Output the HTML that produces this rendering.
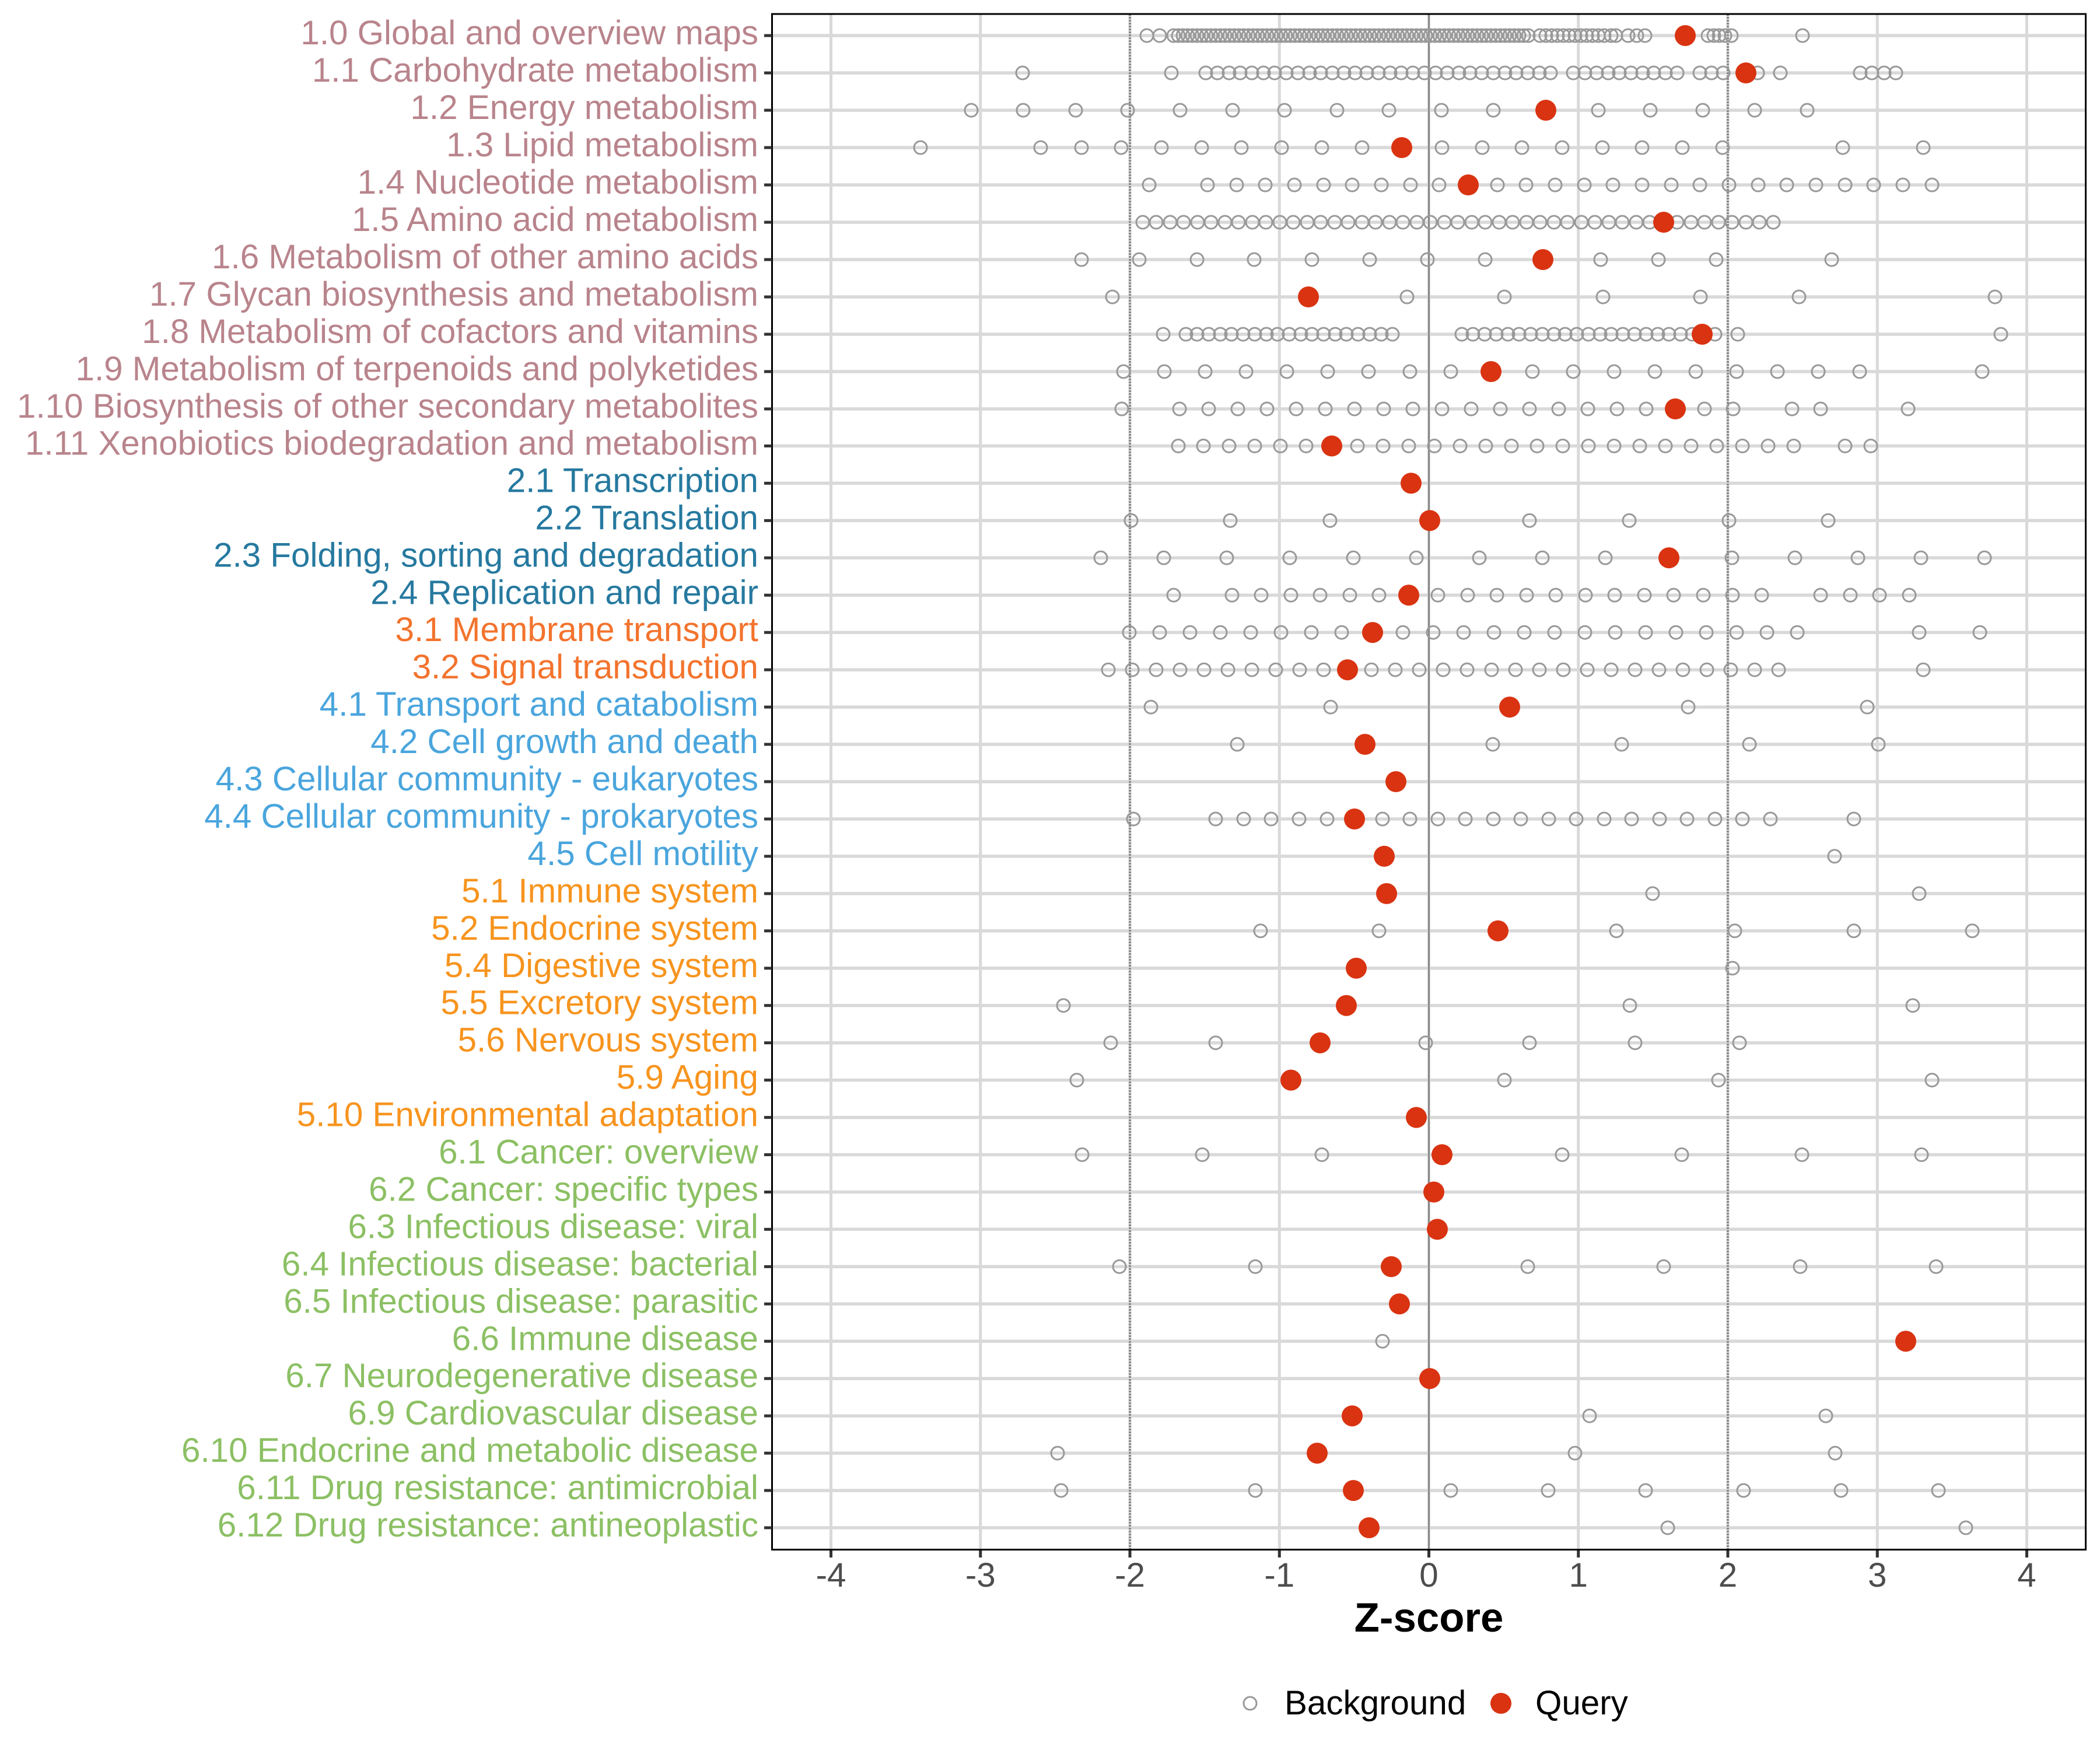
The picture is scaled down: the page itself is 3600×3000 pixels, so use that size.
<!DOCTYPE html>
<html>
<head>
<meta charset="utf-8">
<style>
html,body{margin:0;padding:0;background:#fff;}
svg{display:block;}
.b{fill:none;stroke:#999999;stroke-width:3;}
.q{fill:#D93311;stroke:none;}
.yl{font-family:"Liberation Sans",Arial,sans-serif;font-size:58.33px;text-anchor:end;}
.xl{font-family:"Liberation Sans",Arial,sans-serif;font-size:58.33px;text-anchor:middle;fill:#4D4D4D;}
</style>
</head>
<body>
<svg width="3600" height="3000" viewBox="0 0 3600 3000" xmlns="http://www.w3.org/2000/svg">
<rect x="0" y="0" width="3600" height="3000" fill="#ffffff"/>
<!-- vertical gridlines -->
<g stroke="#D9D9D9" stroke-width="5">
<line x1="1424.5" y1="24" x2="1424.5" y2="2656"/>
<line x1="1680.75" y1="24" x2="1680.75" y2="2656"/>
<line x1="1937" y1="24" x2="1937" y2="2656"/>
<line x1="2193.25" y1="24" x2="2193.25" y2="2656"/>
<line x1="2449.5" y1="24" x2="2449.5" y2="2656"/>
<line x1="2705.75" y1="24" x2="2705.75" y2="2656"/>
<line x1="2962" y1="24" x2="2962" y2="2656"/>
<line x1="3218.25" y1="24" x2="3218.25" y2="2656"/>
<line x1="3474.5" y1="24" x2="3474.5" y2="2656"/>
</g>
<!-- horizontal gridlines -->
<g stroke="#D9D9D9" stroke-width="5.5">
<line x1="1324" x2="3575" y1="61" y2="61"/><line x1="1324" x2="3575" y1="125" y2="125"/><line x1="1324" x2="3575" y1="189" y2="189"/><line x1="1324" x2="3575" y1="253" y2="253"/><line x1="1324" x2="3575" y1="317" y2="317"/><line x1="1324" x2="3575" y1="381" y2="381"/><line x1="1324" x2="3575" y1="445" y2="445"/><line x1="1324" x2="3575" y1="509" y2="509"/><line x1="1324" x2="3575" y1="573" y2="573"/><line x1="1324" x2="3575" y1="637" y2="637"/><line x1="1324" x2="3575" y1="701" y2="701"/><line x1="1324" x2="3575" y1="764.5" y2="764.5"/><line x1="1324" x2="3575" y1="828.4" y2="828.4"/><line x1="1324" x2="3575" y1="892.4" y2="892.4"/><line x1="1324" x2="3575" y1="956.3" y2="956.3"/><line x1="1324" x2="3575" y1="1020.3" y2="1020.3"/><line x1="1324" x2="3575" y1="1084.2" y2="1084.2"/><line x1="1324" x2="3575" y1="1148.2" y2="1148.2"/><line x1="1324" x2="3575" y1="1212.1" y2="1212.1"/><line x1="1324" x2="3575" y1="1276" y2="1276"/><line x1="1324" x2="3575" y1="1340" y2="1340"/><line x1="1324" x2="3575" y1="1404" y2="1404"/><line x1="1324" x2="3575" y1="1467.9" y2="1467.9"/><line x1="1324" x2="3575" y1="1531.9" y2="1531.9"/><line x1="1324" x2="3575" y1="1595.8" y2="1595.8"/><line x1="1324" x2="3575" y1="1659.8" y2="1659.8"/><line x1="1324" x2="3575" y1="1723.7" y2="1723.7"/><line x1="1324" x2="3575" y1="1787.7" y2="1787.7"/><line x1="1324" x2="3575" y1="1851.6" y2="1851.6"/><line x1="1324" x2="3575" y1="1915.6" y2="1915.6"/><line x1="1324" x2="3575" y1="1979.5" y2="1979.5"/><line x1="1324" x2="3575" y1="2043.5" y2="2043.5"/><line x1="1324" x2="3575" y1="2107.4" y2="2107.4"/><line x1="1324" x2="3575" y1="2171.4" y2="2171.4"/><line x1="1324" x2="3575" y1="2235.3" y2="2235.3"/><line x1="1324" x2="3575" y1="2299.3" y2="2299.3"/><line x1="1324" x2="3575" y1="2363.2" y2="2363.2"/><line x1="1324" x2="3575" y1="2427.2" y2="2427.2"/><line x1="1324" x2="3575" y1="2491.1" y2="2491.1"/><line x1="1324" x2="3575" y1="2555.1" y2="2555.1"/><line x1="1324" x2="3575" y1="2619" y2="2619"/>
</g>
<!-- reference lines -->
<g stroke="#808080" stroke-width="3.5" stroke-dasharray="3 2">
<line x1="1937" y1="24" x2="1937" y2="2656"/>
<line x1="2962" y1="24" x2="2962" y2="2656"/>
</g>
<line x1="2449.5" y1="24" x2="2449.5" y2="2656" stroke="#8A8A8A" stroke-width="3"/>

<!-- points -->
<g transform="translate(0,61)">
<g class="b">
<circle cx="1966" r="11"/><circle cx="1988" r="11"/>
<circle cx="2012" r="11"/><circle cx="2020" r="11"/><circle cx="2028" r="11"/><circle cx="2036" r="11"/><circle cx="2044" r="11"/><circle cx="2052" r="11"/><circle cx="2060" r="11"/><circle cx="2068" r="11"/><circle cx="2076" r="11"/><circle cx="2084" r="11"/><circle cx="2092" r="11"/><circle cx="2100" r="11"/><circle cx="2108" r="11"/><circle cx="2116" r="11"/><circle cx="2124" r="11"/><circle cx="2132" r="11"/><circle cx="2140" r="11"/><circle cx="2148" r="11"/><circle cx="2156" r="11"/><circle cx="2164" r="11"/><circle cx="2172" r="11"/><circle cx="2180" r="11"/><circle cx="2188" r="11"/><circle cx="2196" r="11"/><circle cx="2204" r="11"/><circle cx="2212" r="11"/><circle cx="2220" r="11"/><circle cx="2228" r="11"/><circle cx="2236" r="11"/><circle cx="2244" r="11"/><circle cx="2252" r="11"/><circle cx="2260" r="11"/><circle cx="2268" r="11"/><circle cx="2276" r="11"/><circle cx="2284" r="11"/><circle cx="2292" r="11"/><circle cx="2300" r="11"/><circle cx="2308" r="11"/><circle cx="2316" r="11"/><circle cx="2324" r="11"/><circle cx="2332" r="11"/><circle cx="2340" r="11"/><circle cx="2348" r="11"/><circle cx="2356" r="11"/><circle cx="2364" r="11"/><circle cx="2372" r="11"/><circle cx="2380" r="11"/><circle cx="2388" r="11"/><circle cx="2396" r="11"/><circle cx="2404" r="11"/><circle cx="2412" r="11"/><circle cx="2420" r="11"/><circle cx="2428" r="11"/><circle cx="2436" r="11"/><circle cx="2444" r="11"/><circle cx="2452" r="11"/><circle cx="2460" r="11"/><circle cx="2468" r="11"/><circle cx="2476" r="11"/><circle cx="2484" r="11"/><circle cx="2492" r="11"/><circle cx="2500" r="11"/><circle cx="2508" r="11"/><circle cx="2516" r="11"/><circle cx="2524" r="11"/><circle cx="2532" r="11"/><circle cx="2540" r="11"/><circle cx="2548" r="11"/><circle cx="2556" r="11"/><circle cx="2564" r="11"/><circle cx="2572" r="11"/><circle cx="2580" r="11"/><circle cx="2588" r="11"/><circle cx="2596" r="11"/><circle cx="2604" r="11"/><circle cx="2612" r="11"/><circle cx="2620" r="11"/>
<circle cx="2640" r="11"/><circle cx="2650" r="11"/><circle cx="2660" r="11"/><circle cx="2670" r="11"/><circle cx="2680" r="11"/><circle cx="2690" r="11"/><circle cx="2700" r="11"/><circle cx="2710" r="11"/><circle cx="2720" r="11"/><circle cx="2730" r="11"/><circle cx="2740" r="11"/><circle cx="2750" r="11"/><circle cx="2762" r="11"/>
<circle cx="2770" r="11"/><circle cx="2791" r="11"/><circle cx="2806" r="11"/><circle cx="2820" r="11"/><circle cx="2928" r="11"/><circle cx="2938" r="11"/><circle cx="2947" r="11"/><circle cx="2957" r="11"/><circle cx="2968" r="11"/><circle cx="3090" r="11"/>
</g>
<circle class="q" cx="2889" r="18"/>
</g>

<g transform="translate(0,125)">
<g class="b">
<circle cx="1753" r="11"/><circle cx="2008" r="11"/>
<circle cx="2067" r="11"/><circle cx="2087" r="11"/><circle cx="2107" r="11"/><circle cx="2126" r="11"/><circle cx="2146" r="11"/><circle cx="2166" r="11"/><circle cx="2185" r="11"/><circle cx="2205" r="11"/><circle cx="2225" r="11"/><circle cx="2245" r="11"/><circle cx="2264" r="11"/><circle cx="2284" r="11"/><circle cx="2304" r="11"/><circle cx="2323" r="11"/><circle cx="2343" r="11"/><circle cx="2363" r="11"/><circle cx="2383" r="11"/><circle cx="2402" r="11"/><circle cx="2422" r="11"/><circle cx="2442" r="11"/><circle cx="2461" r="11"/><circle cx="2481" r="11"/><circle cx="2501" r="11"/><circle cx="2520" r="11"/><circle cx="2540" r="11"/><circle cx="2560" r="11"/><circle cx="2580" r="11"/><circle cx="2599" r="11"/><circle cx="2619" r="11"/><circle cx="2639" r="11"/><circle cx="2658" r="11"/>
<circle cx="2697" r="11"/><circle cx="2717" r="11"/><circle cx="2737" r="11"/><circle cx="2757" r="11"/><circle cx="2776" r="11"/><circle cx="2796" r="11"/><circle cx="2816" r="11"/><circle cx="2835" r="11"/><circle cx="2855" r="11"/><circle cx="2875" r="11"/>
<circle cx="2914" r="11"/><circle cx="2934" r="11"/><circle cx="2954" r="11"/><circle cx="3013" r="11"/><circle cx="3052" r="11"/><circle cx="3189" r="11"/><circle cx="3209" r="11"/><circle cx="3230" r="11"/><circle cx="3250" r="11"/>
</g>
<circle class="q" cx="2993" r="18"/>
</g>

<g transform="translate(0,189)">
<g class="b">
<circle cx="1665" r="11"/><circle cx="1754" r="11"/><circle cx="1844" r="11"/><circle cx="1933" r="11"/><circle cx="2023" r="11"/><circle cx="2113" r="11"/><circle cx="2202" r="11"/><circle cx="2292" r="11"/><circle cx="2381" r="11"/><circle cx="2471" r="11"/><circle cx="2560" r="11"/><circle cx="2740" r="11"/><circle cx="2829" r="11"/><circle cx="2919" r="11"/><circle cx="3008" r="11"/><circle cx="3098" r="11"/>
</g>
<circle class="q" cx="2650" r="18"/>
</g>

<g transform="translate(0,253)">
<g class="b">
<circle cx="1578" r="11"/><circle cx="1784" r="11"/><circle cx="1854" r="11"/><circle cx="1922" r="11"/><circle cx="1991" r="11"/><circle cx="2060" r="11"/><circle cx="2128" r="11"/><circle cx="2197" r="11"/><circle cx="2266" r="11"/><circle cx="2335" r="11"/><circle cx="2472" r="11"/><circle cx="2541" r="11"/><circle cx="2609" r="11"/><circle cx="2678" r="11"/><circle cx="2747" r="11"/><circle cx="2815" r="11"/><circle cx="2884" r="11"/><circle cx="2953" r="11"/><circle cx="3159" r="11"/><circle cx="3297" r="11"/>
</g>
<circle class="q" cx="2403" r="18"/>
</g>

<g transform="translate(0,317)">
<g class="b">
<circle cx="1970" r="11"/><circle cx="2070" r="11"/><circle cx="2120" r="11"/><circle cx="2169" r="11"/><circle cx="2219" r="11"/><circle cx="2269" r="11"/><circle cx="2318" r="11"/><circle cx="2368" r="11"/><circle cx="2418" r="11"/><circle cx="2467" r="11"/><circle cx="2567" r="11"/><circle cx="2616" r="11"/><circle cx="2666" r="11"/><circle cx="2716" r="11"/><circle cx="2765" r="11"/><circle cx="2815" r="11"/><circle cx="2865" r="11"/><circle cx="2914" r="11"/><circle cx="2964" r="11"/><circle cx="3014" r="11"/><circle cx="3063" r="11"/><circle cx="3113" r="11"/><circle cx="3163" r="11"/><circle cx="3212" r="11"/><circle cx="3262" r="11"/><circle cx="3312" r="11"/>
</g>
<circle class="q" cx="2517" r="18"/>
</g>

<g transform="translate(0,381)">
<g class="b">
<circle cx="1959" r="11"/><circle cx="1982" r="11"/><circle cx="2006" r="11"/><circle cx="2029" r="11"/><circle cx="2053" r="11"/><circle cx="2076" r="11"/><circle cx="2100" r="11"/><circle cx="2123" r="11"/><circle cx="2147" r="11"/><circle cx="2170" r="11"/><circle cx="2194" r="11"/><circle cx="2217" r="11"/><circle cx="2241" r="11"/><circle cx="2264" r="11"/><circle cx="2288" r="11"/><circle cx="2311" r="11"/><circle cx="2335" r="11"/><circle cx="2358" r="11"/><circle cx="2382" r="11"/><circle cx="2405" r="11"/><circle cx="2429" r="11"/><circle cx="2452" r="11"/><circle cx="2476" r="11"/><circle cx="2499" r="11"/><circle cx="2523" r="11"/><circle cx="2546" r="11"/><circle cx="2570" r="11"/><circle cx="2593" r="11"/><circle cx="2617" r="11"/><circle cx="2640" r="11"/><circle cx="2664" r="11"/><circle cx="2687" r="11"/><circle cx="2711" r="11"/><circle cx="2734" r="11"/><circle cx="2758" r="11"/><circle cx="2781" r="11"/><circle cx="2805" r="11"/><circle cx="2828" r="11"/><circle cx="2875" r="11"/><circle cx="2899" r="11"/><circle cx="2922" r="11"/><circle cx="2946" r="11"/><circle cx="2969" r="11"/><circle cx="2993" r="11"/><circle cx="3016" r="11"/><circle cx="3040" r="11"/>
</g>
<circle class="q" cx="2852" r="18"/>
</g>

<g transform="translate(0,445)">
<g class="b">
<circle cx="1854" r="11"/><circle cx="1953" r="11"/><circle cx="2052" r="11"/><circle cx="2150" r="11"/><circle cx="2249" r="11"/><circle cx="2348" r="11"/><circle cx="2447" r="11"/><circle cx="2546" r="11"/><circle cx="2744" r="11"/><circle cx="2843" r="11"/><circle cx="2942" r="11"/><circle cx="3140" r="11"/>
</g>
<circle class="q" cx="2645" r="18"/>
</g>

<g transform="translate(0,509)">
<g class="b">
<circle cx="1907" r="11"/><circle cx="2412" r="11"/><circle cx="2579" r="11"/><circle cx="2748" r="11"/><circle cx="2915" r="11"/><circle cx="3084" r="11"/><circle cx="3420" r="11"/>
</g>
<circle class="q" cx="2243" r="18"/>
</g>

<g transform="translate(0,573)">
<g class="b">
<circle cx="1994" r="11"/>
<circle cx="2033" r="11"/><circle cx="2052" r="11"/><circle cx="2072" r="11"/><circle cx="2092" r="11"/><circle cx="2111" r="11"/><circle cx="2131" r="11"/><circle cx="2151" r="11"/><circle cx="2171" r="11"/><circle cx="2190" r="11"/><circle cx="2210" r="11"/><circle cx="2230" r="11"/><circle cx="2249" r="11"/><circle cx="2269" r="11"/><circle cx="2289" r="11"/><circle cx="2308" r="11"/><circle cx="2328" r="11"/><circle cx="2348" r="11"/><circle cx="2368" r="11"/><circle cx="2387" r="11"/>
<circle cx="2506" r="11"/><circle cx="2525" r="11"/><circle cx="2545" r="11"/><circle cx="2565" r="11"/><circle cx="2585" r="11"/><circle cx="2604" r="11"/><circle cx="2624" r="11"/><circle cx="2644" r="11"/><circle cx="2664" r="11"/><circle cx="2683" r="11"/><circle cx="2703" r="11"/><circle cx="2723" r="11"/><circle cx="2743" r="11"/><circle cx="2762" r="11"/><circle cx="2782" r="11"/><circle cx="2802" r="11"/><circle cx="2822" r="11"/><circle cx="2842" r="11"/><circle cx="2861" r="11"/><circle cx="2881" r="11"/><circle cx="2901" r="11"/>
<circle cx="2940" r="11"/><circle cx="2979" r="11"/><circle cx="3430" r="11"/>
</g>
<circle class="q" cx="2918" r="18"/>
</g>

<g transform="translate(0,637)">
<g class="b">
<circle cx="1926" r="11"/><circle cx="1996" r="11"/><circle cx="2066" r="11"/><circle cx="2136" r="11"/><circle cx="2206" r="11"/><circle cx="2276" r="11"/><circle cx="2346" r="11"/><circle cx="2417" r="11"/><circle cx="2487" r="11"/><circle cx="2627" r="11"/><circle cx="2697" r="11"/><circle cx="2767" r="11"/><circle cx="2837" r="11"/><circle cx="2907" r="11"/><circle cx="2977" r="11"/><circle cx="3047" r="11"/><circle cx="3117" r="11"/><circle cx="3188" r="11"/><circle cx="3398" r="11"/>
</g>
<circle class="q" cx="2556" r="18"/>
</g>

<g transform="translate(0,701)">
<g class="b">
<circle cx="1923" r="11"/><circle cx="2022" r="11"/><circle cx="2072" r="11"/><circle cx="2122" r="11"/><circle cx="2172" r="11"/><circle cx="2222" r="11"/><circle cx="2272" r="11"/><circle cx="2322" r="11"/><circle cx="2372" r="11"/><circle cx="2422" r="11"/><circle cx="2472" r="11"/><circle cx="2522" r="11"/><circle cx="2572" r="11"/><circle cx="2622" r="11"/><circle cx="2672" r="11"/><circle cx="2722" r="11"/><circle cx="2772" r="11"/><circle cx="2822" r="11"/><circle cx="2922" r="11"/><circle cx="2971" r="11"/><circle cx="3072" r="11"/><circle cx="3121" r="11"/><circle cx="3271" r="11"/>
</g>
<circle class="q" cx="2872" r="18"/>
</g>

<g transform="translate(0,764.5)">
<g class="b">
<circle cx="2020" r="11"/><circle cx="2063" r="11"/><circle cx="2107" r="11"/><circle cx="2151" r="11"/><circle cx="2195" r="11"/><circle cx="2239" r="11"/><circle cx="2327" r="11"/><circle cx="2371" r="11"/><circle cx="2415" r="11"/><circle cx="2459" r="11"/><circle cx="2503" r="11"/><circle cx="2547" r="11"/><circle cx="2591" r="11"/><circle cx="2635" r="11"/><circle cx="2679" r="11"/><circle cx="2723" r="11"/><circle cx="2767" r="11"/><circle cx="2811" r="11"/><circle cx="2855" r="11"/><circle cx="2899" r="11"/><circle cx="2943" r="11"/><circle cx="2987" r="11"/><circle cx="3031" r="11"/><circle cx="3075" r="11"/><circle cx="3163" r="11"/><circle cx="3207" r="11"/>
</g>
<circle class="q" cx="2283" r="18"/>
</g>

<g transform="translate(0,828.4)">
<circle class="q" cx="2419" r="18"/>
</g>

<g transform="translate(0,892.4)">
<g class="b">
<circle cx="1939" r="11"/><circle cx="2109" r="11"/><circle cx="2280" r="11"/><circle cx="2622" r="11"/><circle cx="2793" r="11"/><circle cx="2964" r="11"/><circle cx="3134" r="11"/>
</g>
<circle class="q" cx="2451" r="18"/>
</g>

<g transform="translate(0,956.3)">
<g class="b">
<circle cx="1887" r="11"/><circle cx="1995" r="11"/><circle cx="2103" r="11"/><circle cx="2211" r="11"/><circle cx="2320" r="11"/><circle cx="2428" r="11"/><circle cx="2536" r="11"/><circle cx="2644" r="11"/><circle cx="2752" r="11"/><circle cx="2969" r="11"/><circle cx="3077" r="11"/><circle cx="3185" r="11"/><circle cx="3293" r="11"/><circle cx="3402" r="11"/>
</g>
<circle class="q" cx="2861" r="18"/>
</g>

<g transform="translate(0,1020.3)">
<g class="b">
<circle cx="2012" r="11"/><circle cx="2112" r="11"/><circle cx="2162" r="11"/><circle cx="2213" r="11"/><circle cx="2263" r="11"/><circle cx="2314" r="11"/><circle cx="2364" r="11"/><circle cx="2465" r="11"/><circle cx="2516" r="11"/><circle cx="2566" r="11"/><circle cx="2617" r="11"/><circle cx="2667" r="11"/><circle cx="2718" r="11"/><circle cx="2768" r="11"/><circle cx="2819" r="11"/><circle cx="2869" r="11"/><circle cx="2920" r="11"/><circle cx="2970" r="11"/><circle cx="3020" r="11"/><circle cx="3121" r="11"/><circle cx="3172" r="11"/><circle cx="3222" r="11"/><circle cx="3273" r="11"/>
</g>
<circle class="q" cx="2415" r="18"/>
</g>

<g transform="translate(0,1084.2)">
<g class="b">
<circle cx="1936" r="11"/><circle cx="1988" r="11"/><circle cx="2040" r="11"/><circle cx="2092" r="11"/><circle cx="2144" r="11"/><circle cx="2196" r="11"/><circle cx="2248" r="11"/><circle cx="2300" r="11"/><circle cx="2405" r="11"/><circle cx="2457" r="11"/><circle cx="2509" r="11"/><circle cx="2561" r="11"/><circle cx="2613" r="11"/><circle cx="2665" r="11"/><circle cx="2717" r="11"/><circle cx="2769" r="11"/><circle cx="2821" r="11"/><circle cx="2873" r="11"/><circle cx="2925" r="11"/><circle cx="2977" r="11"/><circle cx="3029" r="11"/><circle cx="3081" r="11"/><circle cx="3290" r="11"/><circle cx="3394" r="11"/>
</g>
<circle class="q" cx="2353" r="18"/>
</g>

<g transform="translate(0,1148.2)">
<g class="b">
<circle cx="1900" r="11"/><circle cx="1941" r="11"/><circle cx="1982" r="11"/><circle cx="2023" r="11"/><circle cx="2064" r="11"/><circle cx="2105" r="11"/><circle cx="2146" r="11"/><circle cx="2187" r="11"/><circle cx="2228" r="11"/><circle cx="2269" r="11"/><circle cx="2351" r="11"/><circle cx="2392" r="11"/><circle cx="2433" r="11"/><circle cx="2474" r="11"/><circle cx="2515" r="11"/><circle cx="2557" r="11"/><circle cx="2598" r="11"/><circle cx="2639" r="11"/><circle cx="2680" r="11"/><circle cx="2721" r="11"/><circle cx="2762" r="11"/><circle cx="2803" r="11"/><circle cx="2844" r="11"/><circle cx="2885" r="11"/><circle cx="2926" r="11"/><circle cx="2967" r="11"/><circle cx="3008" r="11"/><circle cx="3049" r="11"/><circle cx="3297" r="11"/>
</g>
<circle class="q" cx="2310" r="18"/>
</g>

<g transform="translate(0,1212.1)">
<g class="b">
<circle cx="1973" r="11"/><circle cx="2281" r="11"/><circle cx="2894" r="11"/><circle cx="3201" r="11"/>
</g>
<circle class="q" cx="2588" r="18"/>
</g>

<g transform="translate(0,1276)">
<g class="b">
<circle cx="2121" r="11"/><circle cx="2559" r="11"/><circle cx="2780" r="11"/><circle cx="2999" r="11"/><circle cx="3220" r="11"/>
</g>
<circle class="q" cx="2340" r="18"/>
</g>

<g transform="translate(0,1340)">
<circle class="q" cx="2393" r="18"/>
</g>

<g transform="translate(0,1404)">
<g class="b">
<circle cx="1943" r="11"/><circle cx="2084" r="11"/><circle cx="2132" r="11"/><circle cx="2179" r="11"/><circle cx="2227" r="11"/><circle cx="2275" r="11"/><circle cx="2370" r="11"/><circle cx="2417" r="11"/><circle cx="2465" r="11"/><circle cx="2512" r="11"/><circle cx="2560" r="11"/><circle cx="2607" r="11"/><circle cx="2655" r="11"/><circle cx="2702" r="11"/><circle cx="2750" r="11"/><circle cx="2797" r="11"/><circle cx="2845" r="11"/><circle cx="2892" r="11"/><circle cx="2940" r="11"/><circle cx="2987" r="11"/><circle cx="3035" r="11"/><circle cx="3178" r="11"/>
</g>
<circle class="q" cx="2322" r="18"/>
</g>

<g transform="translate(0,1467.9)">
<g class="b"><circle cx="3145" r="11"/></g>
<circle class="q" cx="2373" r="18"/>
</g>

<g transform="translate(0,1531.9)">
<g class="b"><circle cx="2833" r="11"/><circle cx="3290" r="11"/></g>
<circle class="q" cx="2377" r="18"/>
</g>

<g transform="translate(0,1595.8)">
<g class="b">
<circle cx="2161" r="11"/><circle cx="2364" r="11"/><circle cx="2771" r="11"/><circle cx="2974" r="11"/><circle cx="3178" r="11"/><circle cx="3381" r="11"/>
</g>
<circle class="q" cx="2568" r="18"/>
</g>

<g transform="translate(0,1659.8)">
<g class="b"><circle cx="2970" r="11"/></g>
<circle class="q" cx="2325" r="18"/>
</g>

<g transform="translate(0,1723.7)">
<g class="b"><circle cx="1823" r="11"/><circle cx="2794" r="11"/><circle cx="3279" r="11"/></g>
<circle class="q" cx="2308" r="18"/>
</g>

<g transform="translate(0,1787.7)">
<g class="b">
<circle cx="1904" r="11"/><circle cx="2084" r="11"/><circle cx="2444" r="11"/><circle cx="2622" r="11"/><circle cx="2803" r="11"/><circle cx="2982" r="11"/>
</g>
<circle class="q" cx="2263" r="18"/>
</g>

<g transform="translate(0,1851.6)">
<g class="b"><circle cx="1846" r="11"/><circle cx="2579" r="11"/><circle cx="2946" r="11"/><circle cx="3312" r="11"/></g>
<circle class="q" cx="2213" r="18"/>
</g>

<g transform="translate(0,1915.6)">
<circle class="q" cx="2428" r="18"/>
</g>

<g transform="translate(0,1979.5)">
<g class="b">
<circle cx="1855" r="11"/><circle cx="2061" r="11"/><circle cx="2266" r="11"/><circle cx="2678" r="11"/><circle cx="2883" r="11"/><circle cx="3089" r="11"/><circle cx="3294" r="11"/>
</g>
<circle class="q" cx="2472" r="18"/>
</g>

<g transform="translate(0,2043.5)">
<circle class="q" cx="2458" r="18"/>
</g>

<g transform="translate(0,2107.4)">
<circle class="q" cx="2464" r="18"/>
</g>

<g transform="translate(0,2171.4)">
<g class="b">
<circle cx="1919" r="11"/><circle cx="2152" r="11"/><circle cx="2619" r="11"/><circle cx="2852" r="11"/><circle cx="3086" r="11"/><circle cx="3319" r="11"/>
</g>
<circle class="q" cx="2385" r="18"/>
</g>

<g transform="translate(0,2235.3)">
<circle class="q" cx="2399" r="18"/>
</g>

<g transform="translate(0,2299.3)">
<g class="b"><circle cx="2370" r="11"/></g>
<circle class="q" cx="3267" r="18"/>
</g>

<g transform="translate(0,2363.2)">
<circle class="q" cx="2451" r="18"/>
</g>

<g transform="translate(0,2427.2)">
<g class="b"><circle cx="2725" r="11"/><circle cx="3130" r="11"/></g>
<circle class="q" cx="2318" r="18"/>
</g>

<g transform="translate(0,2491.1)">
<g class="b"><circle cx="1813" r="11"/><circle cx="2700" r="11"/><circle cx="3146" r="11"/></g>
<circle class="q" cx="2258" r="18"/>
</g>

<g transform="translate(0,2555.1)">
<g class="b">
<circle cx="1819" r="11"/><circle cx="2152" r="11"/><circle cx="2487" r="11"/><circle cx="2654" r="11"/><circle cx="2821" r="11"/><circle cx="2989" r="11"/><circle cx="3156" r="11"/><circle cx="3323" r="11"/>
</g>
<circle class="q" cx="2320" r="18"/>
</g>

<g transform="translate(0,2619)">
<g class="b"><circle cx="2859" r="11"/><circle cx="3370" r="11"/></g>
<circle class="q" cx="2347" r="18"/>
</g>

<!-- panel border -->
<rect x="1323.5" y="24" width="2252" height="2632.5" fill="none" stroke="#000" stroke-width="3"/>

<!-- y ticks -->
<g stroke="#333333" stroke-width="5">
<line x1="1310" x2="1323" y1="61" y2="61"/><line x1="1310" x2="1323" y1="125" y2="125"/><line x1="1310" x2="1323" y1="189" y2="189"/><line x1="1310" x2="1323" y1="253" y2="253"/><line x1="1310" x2="1323" y1="317" y2="317"/><line x1="1310" x2="1323" y1="381" y2="381"/><line x1="1310" x2="1323" y1="445" y2="445"/><line x1="1310" x2="1323" y1="509" y2="509"/><line x1="1310" x2="1323" y1="573" y2="573"/><line x1="1310" x2="1323" y1="637" y2="637"/><line x1="1310" x2="1323" y1="701" y2="701"/><line x1="1310" x2="1323" y1="764.5" y2="764.5"/><line x1="1310" x2="1323" y1="828.4" y2="828.4"/><line x1="1310" x2="1323" y1="892.4" y2="892.4"/><line x1="1310" x2="1323" y1="956.3" y2="956.3"/><line x1="1310" x2="1323" y1="1020.3" y2="1020.3"/><line x1="1310" x2="1323" y1="1084.2" y2="1084.2"/><line x1="1310" x2="1323" y1="1148.2" y2="1148.2"/><line x1="1310" x2="1323" y1="1212.1" y2="1212.1"/><line x1="1310" x2="1323" y1="1276" y2="1276"/><line x1="1310" x2="1323" y1="1340" y2="1340"/><line x1="1310" x2="1323" y1="1404" y2="1404"/><line x1="1310" x2="1323" y1="1467.9" y2="1467.9"/><line x1="1310" x2="1323" y1="1531.9" y2="1531.9"/><line x1="1310" x2="1323" y1="1595.8" y2="1595.8"/><line x1="1310" x2="1323" y1="1659.8" y2="1659.8"/><line x1="1310" x2="1323" y1="1723.7" y2="1723.7"/><line x1="1310" x2="1323" y1="1787.7" y2="1787.7"/><line x1="1310" x2="1323" y1="1851.6" y2="1851.6"/><line x1="1310" x2="1323" y1="1915.6" y2="1915.6"/><line x1="1310" x2="1323" y1="1979.5" y2="1979.5"/><line x1="1310" x2="1323" y1="2043.5" y2="2043.5"/><line x1="1310" x2="1323" y1="2107.4" y2="2107.4"/><line x1="1310" x2="1323" y1="2171.4" y2="2171.4"/><line x1="1310" x2="1323" y1="2235.3" y2="2235.3"/><line x1="1310" x2="1323" y1="2299.3" y2="2299.3"/><line x1="1310" x2="1323" y1="2363.2" y2="2363.2"/><line x1="1310" x2="1323" y1="2427.2" y2="2427.2"/><line x1="1310" x2="1323" y1="2491.1" y2="2491.1"/><line x1="1310" x2="1323" y1="2555.1" y2="2555.1"/><line x1="1310" x2="1323" y1="2619" y2="2619"/>
</g>
<!-- x ticks -->
<g stroke="#333333" stroke-width="5">
<line x1="1424.5" x2="1424.5" y1="2658" y2="2670"/><line x1="1680.75" x2="1680.75" y1="2658" y2="2670"/><line x1="1937" x2="1937" y1="2658" y2="2670"/><line x1="2193.25" x2="2193.25" y1="2658" y2="2670"/><line x1="2449.5" x2="2449.5" y1="2658" y2="2670"/><line x1="2705.75" x2="2705.75" y1="2658" y2="2670"/><line x1="2962" x2="2962" y1="2658" y2="2670"/><line x1="3218.25" x2="3218.25" y1="2658" y2="2670"/><line x1="3474.5" x2="3474.5" y1="2658" y2="2670"/>
</g>
<!-- x tick labels -->
<text class="xl" x="1424.5" y="2720">-4</text>
<text class="xl" x="1680.75" y="2720">-3</text>
<text class="xl" x="1937" y="2720">-2</text>
<text class="xl" x="2193.25" y="2720">-1</text>
<text class="xl" x="2449.5" y="2720">0</text>
<text class="xl" x="2705.75" y="2720">1</text>
<text class="xl" x="2962" y="2720">2</text>
<text class="xl" x="3218.25" y="2720">3</text>
<text class="xl" x="3474.5" y="2720">4</text>

<!-- x axis title -->
<text x="2449.5" y="2797" font-family="'Liberation Sans',Arial,sans-serif" font-size="70.8" font-weight="bold" text-anchor="middle" fill="#000">Z-score</text>

<!-- y labels -->
<g class="yl" fill="#B9848C">
<text x="1300" y="76">1.0 Global and overview maps</text>
<text x="1300" y="140">1.1 Carbohydrate metabolism</text>
<text x="1300" y="204">1.2 Energy metabolism</text>
<text x="1300" y="268">1.3 Lipid metabolism</text>
<text x="1300" y="332">1.4 Nucleotide metabolism</text>
<text x="1300" y="396">1.5 Amino acid metabolism</text>
<text x="1300" y="460">1.6 Metabolism of other amino acids</text>
<text x="1300" y="524">1.7 Glycan biosynthesis and metabolism</text>
<text x="1300" y="588">1.8 Metabolism of cofactors and vitamins</text>
<text x="1300" y="652">1.9 Metabolism of terpenoids and polyketides</text>
<text x="1300" y="716">1.10 Biosynthesis of other secondary metabolites</text>
<text x="1300" y="779.5">1.11 Xenobiotics biodegradation and metabolism</text>
</g>
<g class="yl" fill="#26799F">
<text x="1300" y="843.4">2.1 Transcription</text>
<text x="1300" y="907.4">2.2 Translation</text>
<text x="1300" y="971.3">2.3 Folding, sorting and degradation</text>
<text x="1300" y="1035.3">2.4 Replication and repair</text>
</g>
<g class="yl" fill="#F3732D">
<text x="1300" y="1099.2">3.1 Membrane transport</text>
<text x="1300" y="1163.2">3.2 Signal transduction</text>
</g>
<g class="yl" fill="#4AA5DD">
<text x="1300" y="1227.1">4.1 Transport and catabolism</text>
<text x="1300" y="1291">4.2 Cell growth and death</text>
<text x="1300" y="1355">4.3 Cellular community - eukaryotes</text>
<text x="1300" y="1419">4.4 Cellular community - prokaryotes</text>
<text x="1300" y="1482.9">4.5 Cell motility</text>
</g>
<g class="yl" fill="#F7941E">
<text x="1300" y="1546.9">5.1 Immune system</text>
<text x="1300" y="1610.8">5.2 Endocrine system</text>
<text x="1300" y="1674.8">5.4 Digestive system</text>
<text x="1300" y="1738.7">5.5 Excretory system</text>
<text x="1300" y="1802.7">5.6 Nervous system</text>
<text x="1300" y="1866.6">5.9 Aging</text>
<text x="1300" y="1930.6">5.10 Environmental adaptation</text>
</g>
<g class="yl" fill="#8CC064">
<text x="1300" y="1994.5">6.1 Cancer: overview</text>
<text x="1300" y="2058.5">6.2 Cancer: specific types</text>
<text x="1300" y="2122.4">6.3 Infectious disease: viral</text>
<text x="1300" y="2186.4">6.4 Infectious disease: bacterial</text>
<text x="1300" y="2250.3">6.5 Infectious disease: parasitic</text>
<text x="1300" y="2314.3">6.6 Immune disease</text>
<text x="1300" y="2378.2">6.7 Neurodegenerative disease</text>
<text x="1300" y="2442.2">6.9 Cardiovascular disease</text>
<text x="1300" y="2506.1">6.10 Endocrine and metabolic disease</text>
<text x="1300" y="2570.1">6.11 Drug resistance: antimicrobial</text>
<text x="1300" y="2634">6.12 Drug resistance: antineoplastic</text>
</g>

<!-- legend -->
<circle class="b" cx="2143" cy="2920" r="11"/>
<text x="2202" y="2939" font-family="'Liberation Sans',Arial,sans-serif" font-size="58.33" fill="#000">Background</text>
<circle class="q" cx="2573" cy="2920" r="18"/>
<text x="2632" y="2939" font-family="'Liberation Sans',Arial,sans-serif" font-size="58.33" fill="#000">Query</text>
</svg>
</body>
</html>
